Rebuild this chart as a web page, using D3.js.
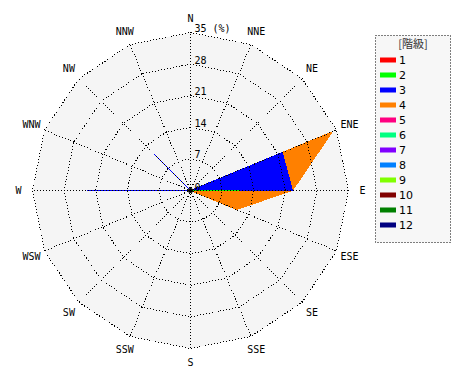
<!DOCTYPE html>
<html><head><meta charset="utf-8">
<script src="https://cdn.jsdelivr.net/npm/d3@7"></script>
<style>body{margin:0;background:#fff}</style>
</head><body>
<script>
const directions = ["N","NNE","NE","ENE","E","ESE","SE","SSE","S","SSW","SW","WSW","W","WNW","NW","NNW"];
const classLabels = ["1","2","3","4","5","6","7","8","9","10","11","12"];
const classColors = ["#ff0000","#00ff00","#0000ff","#ff8000","#ff0080","#00ff80","#8000ff","#0080ff","#80ff00","#800000","#008000","#000080"];
// frequency (%) per class, per direction (N .. NNW)
const class1  = [0,0,0,0,0,0,0,0,0,0,0,0,0,0,0,0];
const class2  = [0,0,0,0,11,0,0,0,0,0,0,0,0,0,0,0];
const class3  = [0,0,0,22,11.6,0,0,0,0,0,0,0,23,0,11.4,0];
const class4  = [0,0,0,12,0,11,0,0,0,0,0,0,0,0,0,0];
const class5  = [0,0,0,0,0,0,0,0,0,0,0,0,0,0,0,0];
const class6  = [0,0,0,0,0,0,0,0,0,0,0,0,0,0,0,0];
const class7  = [0,0,0,0,0,0,0,0,0,0,0,0,0,0,0,0];
const class8  = [0,0,0,0,0,0,0,0,0,0,0,0,0,0,0,0];
const class9  = [0,0,0,0,0,0,0,0,0,0,0,0,0,0,0,0];
const class10 = [0,0,0,0,0,0,0,0,0,0,0,0,0,0,0,0];
const class11 = [0,0,0,0,0,0,0,0,0,0,0,0,0,0,0,0];
const class12 = [0,0,0,0,0,0,0,0,0,0,0,0,0,0,0,0];
const ringTicks = [7,14,21,28,35];
const maxValue = 35;

const classes = [class1,class2,class3,class4,class5,class6,class7,class8,class9,class10,class11,class12];

const W = 470, H = 380, cx = 190.5, cy = 190.5, R = 158;
const svg = d3.select("body").append("svg").attr("width", W).attr("height", H);
const r = d3.scaleLinear().domain([0, maxValue]).range([0, R]);
const ang = d3.scalePoint().domain(directions.concat(["_end"])).range([0, 2*Math.PI]);
const g = svg.append("g").attr("transform", `translate(${cx},${cy})`);
const mono = "'DejaVu Sans Mono', monospace";

function ring(val){
  return d3.lineRadial().angle(d => ang(d)).radius(() => r(val)).curve(d3.curveLinearClosed)(directions);
}
// background
g.append("path").attr("d", ring(maxValue)).attr("fill", "#f5f5f5").attr("stroke", "none");

// cumulative stacks, outermost first
const cum = [];
classes.forEach((c, k) => cum.push(c.map((v, i) => v + (k > 0 ? cum[k-1][i] : 0))));
const areaLine = d3.lineRadial().angle((d, i) => ang(directions[i])).radius(d => r(d)).curve(d3.curveLinearClosed);
for (let k = classes.length - 1; k >= 0; k--) {
  if (d3.max(classes[k]) <= 0) continue;
  g.append("path").attr("d", areaLine(cum[k]))
    .attr("fill", classColors[k]).attr("stroke", classColors[k]).attr("stroke-width", 1)
    .attr("shape-rendering", "crispEdges");
}

// grid rings & spokes
ringTicks.forEach(t => {
  g.append("path").attr("d", ring(t)).attr("fill", "none")
    .attr("stroke", "#000").attr("stroke-width", 1).attr("stroke-dasharray", "1,2")
    .attr("shape-rendering", "crispEdges");
});
directions.forEach(d => {
  const a = ang(d);
  g.append("line").attr("x1", 0).attr("y1", 0)
    .attr("x2", r(maxValue) * Math.sin(a)).attr("y2", -r(maxValue) * Math.cos(a))
    .attr("stroke", "#000").attr("stroke-width", 1).attr("stroke-dasharray", "1,2")
    .attr("shape-rendering", "crispEdges");
});
g.append("circle").attr("r", 2.5).attr("fill", "#000");

// tick labels
g.append("text").attr("x", 4).attr("y", 0).attr("font-family", mono).attr("font-size", 10).text("0");
ringTicks.forEach(t => {
  g.append("text").attr("x", 4).attr("y", -r(t) - 0.5)
    .attr("font-family", mono).attr("font-size", 10)
    .text(t === maxValue ? t + " (%)" : t);
});

// direction labels
directions.forEach(d => {
  const a = ang(d), rr = R + 14;
  g.append("text").attr("x", rr * Math.sin(a)).attr("y", -rr * Math.cos(a))
    .attr("text-anchor", "middle").attr("dominant-baseline", "central")
    .attr("font-family", mono).attr("font-size", 10).text(d);
});

// legend
const lg = svg.append("g");
lg.append("rect").attr("x", 375.5).attr("y", 35.5).attr("width", 75).attr("height", 207)
  .attr("fill", "#f7f7f7").attr("stroke", "#000").attr("stroke-dasharray", "1,2");
lg.append("text").attr("x", 413).attr("y", 48).attr("text-anchor", "middle")
  .attr("font-family", "'Noto Sans CJK JP', sans-serif").attr("font-size", 11).attr("fill", "#333").text("[階級]");
classLabels.forEach((c, i) => {
  const y = 60 + i * 15;
  lg.append("rect").attr("x", 380).attr("y", y - 2.5).attr("width", 16).attr("height", 5).attr("fill", classColors[i]);
  lg.append("text").attr("x", 399).attr("y", y).attr("dominant-baseline", "central")
    .attr("font-family", "'DejaVu Sans', sans-serif").attr("font-size", 11).text(c);
});
</script>
</body></html>
